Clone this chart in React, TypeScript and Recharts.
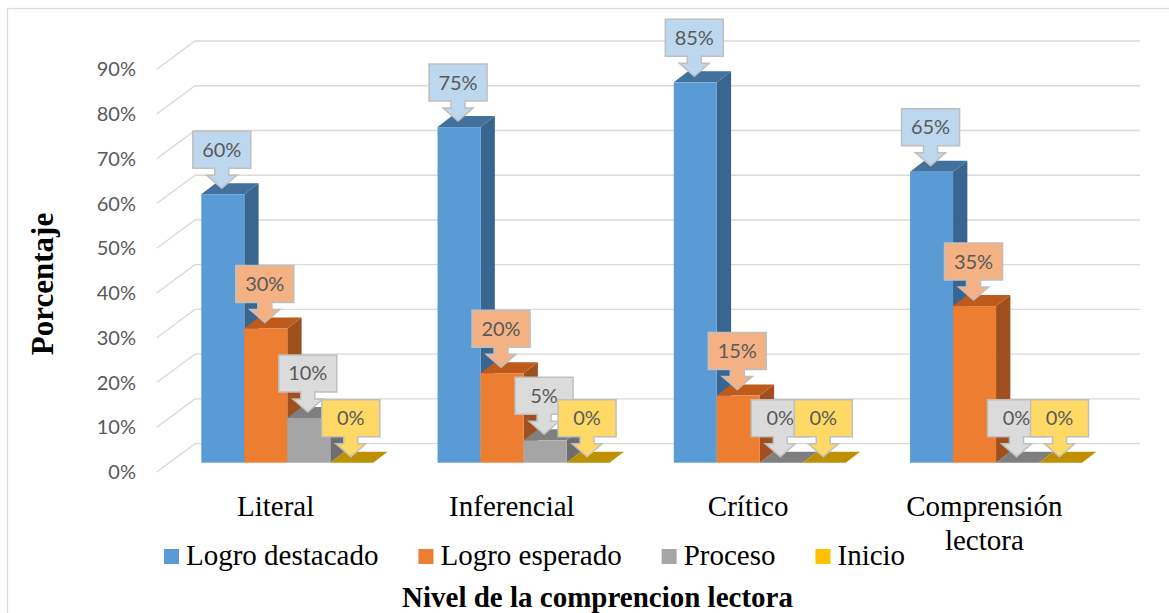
import { useLayoutEffect, useRef, useState } from "react"
import { BarChart, Bar, XAxis, YAxis, CartesianGrid, Legend, LabelList } from "recharts"

const categories = ["Literal", "Inferencial", "Crítico", "Comprensión lectora"]
const logroDestacado = [60, 75, 85, 65]
const logroEsperado = [30, 20, 15, 35]
const proceso = [10, 5, 0, 0]
const inicio = [0, 0, 0, 0]
const yTicks = [0, 10, 20, 30, 40, 50, 60, 70, 80, 90]

const series = [
  { key: "destacado", name: "Logro destacado", front: "#5B9BD5", top: "#41719C", side: "#386690", callout: "#BDD7EE" },
  { key: "esperado", name: "Logro esperado", front: "#ED7D31", top: "#BE5B1C", side: "#A0501E", callout: "#F4B183" },
  { key: "proceso", name: "Proceso", front: "#A5A5A5", top: "#7F7F7F", side: "#6E6E6E", callout: "#DBDBDB" },
  { key: "inicio", name: "Inicio", front: "#FFC000", top: "#BF9000", side: "#A67D00", callout: "#FFD966" },
]

const data = categories.map((name, i) => ({
  name,
  destacado: logroDestacado[i],
  esperado: logroEsperado[i],
  proceso: proceso[i],
  inicio: inicio[i],
}))

const SANS = "Lato, 'Open Sans', sans-serif"
const SERIF = "'Liberation Serif', 'Times New Roman', serif"

// fake 3D: plot area is the back wall, everything else is shifted towards the viewer
const FLOOR_DX = 38.3
const FLOOR_DY = 28.3
const FACE_DX = 25.7
const FACE_DY = 19
const BAR_DX = 14.3
const BAR_DY = 11

const makeBar = (s: (typeof series)[number]) => (p: any) => {
  const x = p.x - FACE_DX
  const y = p.y + FACE_DY
  const w = p.width
  const h = Math.max(p.height, 0)
  return (
    <g>
      {h > 0 && (
        <polygon
          points={`${x + w},${y} ${x + w + BAR_DX},${y - BAR_DY} ${x + w + BAR_DX},${y + h - BAR_DY} ${x + w},${y + h}`}
          fill={s.side}
        />
      )}
      <polygon
        points={`${x},${y} ${x + w},${y} ${x + w + BAR_DX},${y - BAR_DY} ${x + BAR_DX},${y - BAR_DY}`}
        fill={s.top}
      />
      {h > 0 && <rect x={x} y={y} width={w} height={h} fill={s.front} />}
    </g>
  )
}

const makeCallout = (fill: string) => (p: any) => {
  const vb = p.viewBox ?? p
  const cx = vb.x - FACE_DX + vb.width / 2 - 1
  const tip = vb.y + FACE_DY - 6
  const bottom = tip - 20
  const top = bottom - 37
  const d = `M${cx - 29},${top} H${cx + 29} V${bottom} H${cx + 7} V${bottom + 7} H${cx + 15} L${cx},${tip} L${cx - 15},${bottom + 7} H${cx - 7} V${bottom} H${cx - 29} Z`
  return (
    <g>
      <path d={d} fill={fill} stroke="#BFBFBF" strokeWidth={1.5} />
      <text x={cx} y={top + 18.5} dy="0.35em" textAnchor="middle" fontFamily={SANS} fontSize={20} fill="#595959">
        {`${p.value}%`}
      </text>
    </g>
  )
}

const YTick = (p: any) => (
  <text x={136} y={p.y + FLOOR_DY} dy="0.35em" textAnchor="end" fontFamily={SANS} fontSize={20} fill="#595959">
    {`${p.payload.value}%`}
  </text>
)

const XTick = (p: any) => {
  const words = String(p.payload.value).split(" ")
  return (
    <text x={p.x - 37.5} y={516} textAnchor="middle" fontFamily={SERIF} fontSize={29} fill="#000">
      {words.map((w, i) => (
        <tspan key={w} x={p.x - 37.5} dy={i === 0 ? 0 : 34}>
          {w}
        </tspan>
      ))}
    </text>
  )
}

// legend drawn as svg text so it uses the same serif face as the axes
function LegendSvg() {
  const refs = useRef<(SVGTextElement | null)[]>([])
  const [widths, setWidths] = useState<number[] | null>(null)
  useLayoutEffect(() => {
    const w = refs.current.map((t) => (t ? t.getComputedTextLength() : 0))
    if (!widths || w.some((v, i) => Math.abs(v - widths[i]) > 0.5)) setWidths(w)
  })
  let x = 0
  return (
    <svg width={780} height={42} style={{ display: "block" }}>
      {series.map((s, i) => {
        const x0 = x
        x += 15 + 7 + (widths ? widths[i] : 150) + 40
        return (
          <g key={s.key}>
            <rect x={x0} y={12} width={15} height={15} fill={s.front} />
            <text
              ref={(el) => {
                refs.current[i] = el
              }}
              x={x0 + 22}
              y={28}
              fontFamily={SERIF}
              fontSize={29}
              fill="#000"
            >
              {s.name}
            </text>
          </g>
        )
      })}
    </svg>
  )
}

const LegendContent = () => <LegendSvg />

export default function App() {
  return (
    <div style={{ position: "absolute", left: 0, top: 0, width: 1169, height: 613, background: "#fff", overflow: "hidden" }}>
      <svg width={1169} height={613} style={{ position: "absolute", left: 0, top: 0 }}>
        <rect x={7.5} y={8.5} width={1200} height={700} fill="none" stroke="#D9D9D9" strokeWidth={1.2} />
      </svg>
      <BarChart
        width={1169}
        height={613}
        data={data}
        margin={{ top: 41, right: 29, left: 0, bottom: 0 }}
        barSize={43}
        barGap={0}
      >
        <CartesianGrid
          vertical={false}
          horizontal={(p: any) => (
            <polyline
              key={`g-${p.y1}`}
              points={`${p.x1 - FLOOR_DX},${p.y1 + FLOOR_DY} ${p.x1},${p.y1} ${p.x2},${p.y2}`}
              fill="none"
              stroke="#D9D9D9"
              strokeWidth={1.3}
            />
          )}
        />
        <XAxis
          dataKey="name"
          height={169.3}
          interval={0}
          axisLine={false}
          tickLine={false}
          tick={XTick}
          label={() => (
            <text x={597.5} y={607} textAnchor="middle" fontFamily={SERIF} fontSize={29} fontWeight="bold" fill="#000">
              Nivel de la comprencion lectora
            </text>
          )}
        />
        <YAxis
          width={195}
          domain={[0, 90]}
          ticks={yTicks}
          interval={0}
          axisLine={false}
          tickLine={false}
          tick={YTick}
          label={() => (
            <text
              x={53}
              y={284}
              transform="rotate(-90, 53, 284)"
              textAnchor="middle"
              fontFamily={SERIF}
              fontSize={31}
              fontWeight="bold"
              fill="#000"
            >
              Porcentaje
            </text>
          )}
        />
        <Legend
          layout="horizontal"
          verticalAlign="middle"
          align="center"
          wrapperStyle={{ position: "absolute", left: 164, top: 537, width: "auto", height: "auto" }}
          content={LegendContent}
        />
        {series.map((s) => (
          <Bar key={s.key} dataKey={s.key} name={s.name} fill={s.front} shape={makeBar(s)} isAnimationActive={false}>
            <LabelList dataKey={s.key} content={makeCallout(s.callout)} />
          </Bar>
        ))}
      </BarChart>
    </div>
  )
}
